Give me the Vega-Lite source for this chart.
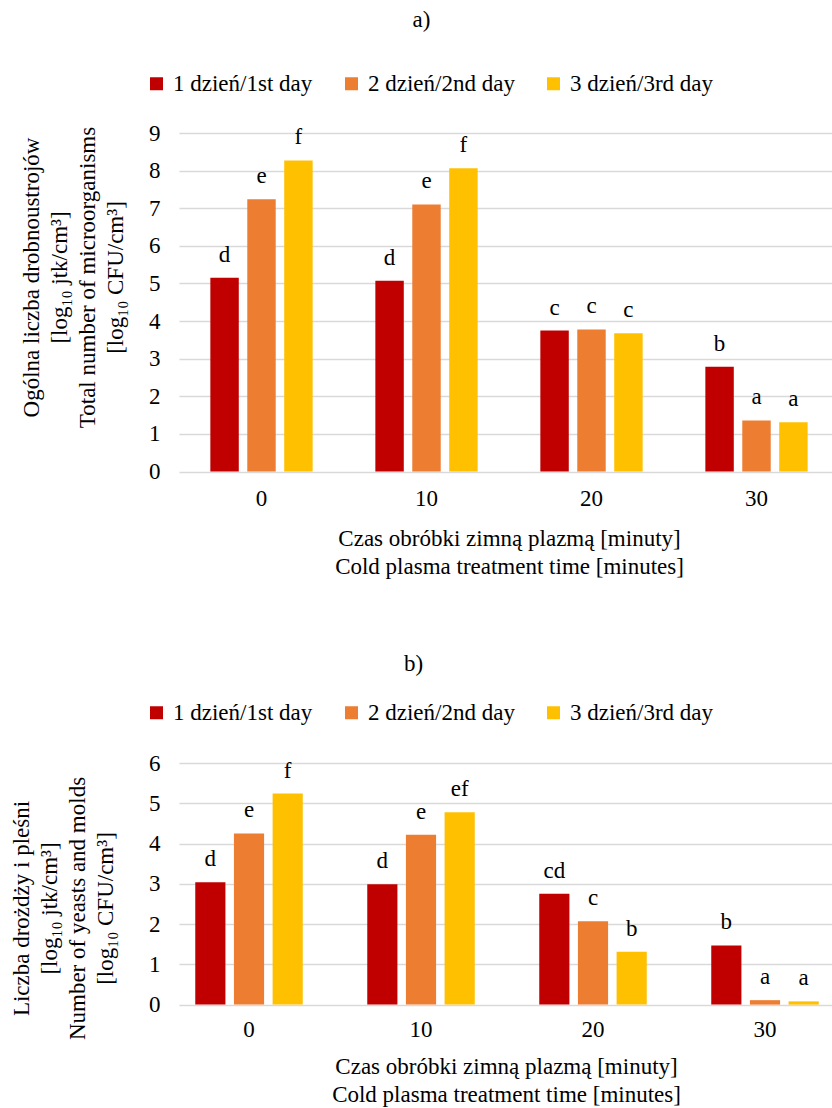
{
  "$schema": "https://vega.github.io/schema/vega-lite/v6.json",
  "background": "white",
  "padding": {"left": 10, "top": 9, "right": 0, "bottom": 0},
  "columns": 1,
  "align": "none",
  "spacing": 74,
  "resolve": {
    "scale": {"color": "independent", "x": "independent", "y": "independent", "xOffset": "independent"},
    "legend": {"color": "independent"}
  },
  "config": {
    "font": "Liberation Serif",
    "view": {"stroke": null},
    "axis": {"labelFont": "Liberation Serif", "titleFont": "Liberation Serif", "labelColor": "black", "titleColor": "black", "labelFontSize": 23, "titleFontSize": 23, "titleFontWeight": "normal", "titleLineHeight": 28, "ticks": false, "domain": false},
    "legend": {"labelFont": "Liberation Serif", "labelColor": "black", "labelFontSize": 23},
    "title": {"font": "Liberation Serif", "fontSize": 23, "fontWeight": "normal", "color": "black"}
  },
  "concat": [
    {
      "width": 660,
      "height": 338.6,
      "title": {"text": "a)", "font": "Liberation Serif", "anchor": "middle", "frame": "bounds", "offset": 40, "dx": -8},
      "data": {"values": [
        {"time": "0", "day": "1 dzień/1st day", "value": 5.15, "sig": "d"},
        {"time": "0", "day": "2 dzień/2nd day", "value": 7.24, "sig": "e"},
        {"time": "0", "day": "3 dzień/3rd day", "value": 8.27, "sig": "f"},
        {"time": "10", "day": "1 dzień/1st day", "value": 5.07, "sig": "d"},
        {"time": "10", "day": "2 dzień/2nd day", "value": 7.10, "sig": "e"},
        {"time": "10", "day": "3 dzień/3rd day", "value": 8.06, "sig": "f"},
        {"time": "20", "day": "1 dzień/1st day", "value": 3.75, "sig": "c"},
        {"time": "20", "day": "2 dzień/2nd day", "value": 3.78, "sig": "c"},
        {"time": "20", "day": "3 dzień/3rd day", "value": 3.68, "sig": "c"},
        {"time": "30", "day": "1 dzień/1st day", "value": 2.79, "sig": "b"},
        {"time": "30", "day": "2 dzień/2nd day", "value": 1.36, "sig": "a"},
        {"time": "30", "day": "3 dzień/3rd day", "value": 1.31, "sig": "a"}
      ]},
      "encoding": {
        "x": {"field": "time", "type": "ordinal", "sort": ["0", "10", "20", "30"],
          "scale": {"paddingInner": 0.38, "paddingOuter": 0.19},
          "axis": {"labelAngle": 0, "labelPadding": 16, "titlePadding": 17, "labelFont": "Liberation Serif", "titleFont": "Liberation Serif",
            "title": ["Czas obróbki zimną plazmą [minuty]", "Cold plasma treatment time [minutes]"]}},
        "xOffset": {"field": "day", "type": "nominal", "sort": ["1 dzień/1st day", "2 dzień/2nd day", "3 dzień/3rd day"],
          "scale": {"paddingInner": 0.23, "paddingOuter": 0}},
        "y": {"field": "value", "type": "quantitative",
          "scale": {"domain": [0, 9], "nice": false},
          "axis": {"values": [0, 1, 2, 3, 4, 5, 6, 7, 8, 9], "grid": true, "gridColor": "#D9D9D9", "gridWidth": 1.5,
            "labelPadding": 19, "titleX": -136, "titleY": 144, "labelFont": "Liberation Serif", "titleFont": "Liberation Serif",
            "title": ["Ogólna liczba drobnoustrojów", "[log₁₀ jtk/cm³]", "Total number of microorganisms", "[log₁₀ CFU/cm³]"]}}
      },
      "layer": [
        {
          "mark": {"type": "bar"},
          "encoding": {
            "color": {"field": "day", "type": "nominal",
              "scale": {"domain": ["1 dzień/1st day", "2 dzień/2nd day", "3 dzień/3rd day"], "range": ["#C00000", "#ED7D31", "#FFC000"]},
              "legend": {"title": null, "orient": "none", "legendX": -34, "legendY": -61, "direction": "horizontal", "columns": 3,
                "symbolType": "square", "symbolSize": 169, "symbolStrokeWidth": 0, "labelOffset": 5, "columnPadding": 27, "padding": 0, "labelFont": "Liberation Serif"}}
          }
        },
        {
          "mark": {"type": "text", "font": "Liberation Serif", "baseline": "alphabetic", "dy": -16, "fontSize": 23, "color": "black"},
          "encoding": {"text": {"field": "sig"}}
        }
      ]
    },
    {
      "width": 654,
      "height": 241.6,
      "title": {"text": "b)", "font": "Liberation Serif", "anchor": "middle", "frame": "bounds", "offset": 25, "dx": -8},
      "data": {"values": [
        {"time": "0", "day": "1 dzień/1st day", "value": 3.04, "sig": "d"},
        {"time": "0", "day": "2 dzień/2nd day", "value": 4.25, "sig": "e"},
        {"time": "0", "day": "3 dzień/3rd day", "value": 5.24, "sig": "f"},
        {"time": "10", "day": "1 dzień/1st day", "value": 2.99, "sig": "d"},
        {"time": "10", "day": "2 dzień/2nd day", "value": 4.22, "sig": "e"},
        {"time": "10", "day": "3 dzień/3rd day", "value": 4.78, "sig": "ef"},
        {"time": "20", "day": "1 dzień/1st day", "value": 2.75, "sig": "cd"},
        {"time": "20", "day": "2 dzień/2nd day", "value": 2.07, "sig": "c"},
        {"time": "20", "day": "3 dzień/3rd day", "value": 1.31, "sig": "b"},
        {"time": "30", "day": "1 dzień/1st day", "value": 1.47, "sig": "b"},
        {"time": "30", "day": "2 dzień/2nd day", "value": 0.11, "sig": "a"},
        {"time": "30", "day": "3 dzień/3rd day", "value": 0.08, "sig": "a"}
      ]},
      "encoding": {
        "x": {"field": "time", "type": "ordinal", "sort": ["0", "10", "20", "30"],
          "scale": {"paddingInner": 0.375, "paddingOuter": 0.0887, "align": 0.533},
          "axis": {"labelAngle": 0, "labelPadding": 14, "titlePadding": 14, "labelFont": "Liberation Serif", "titleFont": "Liberation Serif",
            "title": ["Czas obróbki zimną plazmą [minuty]", "Cold plasma treatment time [minutes]"]}},
        "xOffset": {"field": "day", "type": "nominal", "sort": ["1 dzień/1st day", "2 dzień/2nd day", "3 dzień/3rd day"],
          "scale": {"paddingInner": 0.22, "paddingOuter": 0}},
        "y": {"field": "value", "type": "quantitative",
          "scale": {"domain": [0, 6], "nice": false},
          "axis": {"values": [0, 1, 2, 3, 4, 5, 6], "grid": true, "gridColor": "#D9D9D9", "gridWidth": 1.5,
            "labelPadding": 19, "titleX": -146, "titleY": 145, "labelFont": "Liberation Serif", "titleFont": "Liberation Serif",
            "title": ["Liczba drożdży i pleśni", "[log₁₀ jtk/cm³]", "Number of yeasts and molds", "[log₁₀ CFU/cm³]"]}}
      },
      "layer": [
        {
          "mark": {"type": "bar"},
          "encoding": {
            "color": {"field": "day", "type": "nominal",
              "scale": {"domain": ["1 dzień/1st day", "2 dzień/2nd day", "3 dzień/3rd day"], "range": ["#C00000", "#ED7D31", "#FFC000"]},
              "legend": {"title": null, "orient": "none", "legendX": -34, "legendY": -62, "direction": "horizontal", "columns": 3,
                "symbolType": "square", "symbolSize": 169, "symbolStrokeWidth": 0, "labelOffset": 5, "columnPadding": 27, "padding": 0, "labelFont": "Liberation Serif"}}
          }
        },
        {
          "mark": {"type": "text", "font": "Liberation Serif", "baseline": "alphabetic", "dy": -16, "fontSize": 23, "color": "black"},
          "encoding": {"text": {"field": "sig"}}
        }
      ]
    }
  ]
}
